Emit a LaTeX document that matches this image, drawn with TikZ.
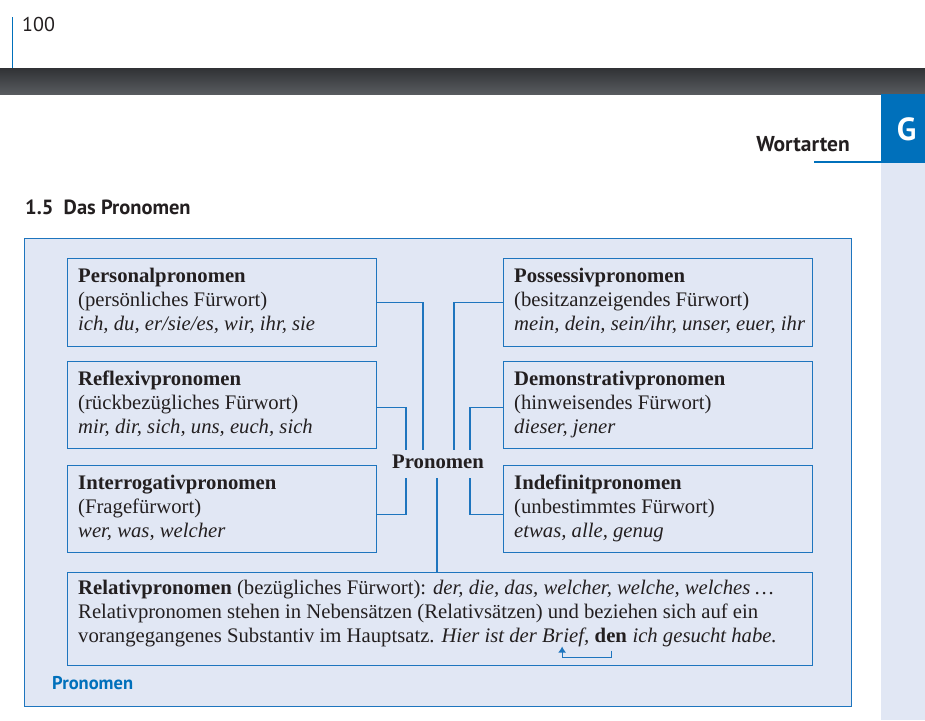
\documentclass[tikz,border=0pt]{standalone}
\usepackage{fontspec}
\setmainfont{Liberation Serif}
\newfontfamily\sansf{PT Sans}
\usetikzlibrary{arrows.meta,calc}
\definecolor{boxblue}{RGB}{30,117,190}
\definecolor{tabblue}{RGB}{0,112,187}
\definecolor{boxfill}{RGB}{225,231,244}
\definecolor{ink}{RGB}{35,31,32}
\definecolor{barTop}{RGB}{48,50,53}
\definecolor{barBot}{RGB}{88,91,95}
\newcommand\pbtext[4]{%
  \node[txt] (#1-a) at ($(#1.north west)+(11,24.5)$) {\textbf{#2}};
  \node[txt] (#1-b) at ($(#1.north west)+(11,48.5)$) {#3};
  \node[txt] (#1-c) at ($(#1.north west)+(11,72)$) {\textit{#4}};
}
\begin{document}
\begin{tikzpicture}[x=1pt,y=-1pt,
  txt/.style={anchor=base west,inner sep=0pt,text=ink,font=\fontsize{20.7}{24}\selectfont},
  pbox/.style={draw=boxblue,fill=boxfill,line width=1.3pt,minimum width=309pt,minimum height=88pt,inner sep=0pt,anchor=north west},
  conn/.style={draw=boxblue,line width=1.2pt},
  sanstxt/.style={inner sep=0pt,text=ink}]
\useasboundingbox (0,0) rectangle (925,720);
\fill[white] (0,0) rectangle (925,720);
% header
\draw[tabblue,line width=1pt] (12.4,17) -- (12.4,68);
\node[sanstxt,anchor=base west,font=\sansf\fontsize{20}{24}\selectfont] (pnum) at (22,31) {100};
\shade[top color=barTop,bottom color=barBot] (0,68) rectangle (925,94);
\fill[tabblue] (881,94) rectangle (925,163);
\fill[boxfill] (881,163) rectangle (925,720);
\node[inner sep=0pt,text=white,font=\sansf\bfseries\fontsize{32}{36}\selectfont] (tab) at (906.5,129) {G};
\node[sanstxt,anchor=base east,font=\sansf\bfseries\fontsize{21.5}{26}\selectfont] (chap) at (850,151) {Wortarten};
\draw[tabblue,line width=2pt] (814,162) -- (881,162);
\node[sanstxt,anchor=base west,font=\sansf\bfseries\fontsize{20.5}{24}\selectfont] (sect) at (25,214) {1.5\hspace{0.5em}Das Pronomen};
% frame
\node[draw=boxblue,fill=boxfill,line width=1.2pt,inner sep=0pt,minimum width=827pt,minimum height=468pt,anchor=north west] (frame) at (24,238) {};
\node[inner sep=0pt,anchor=base west,text=tabblue,font=\sansf\bfseries\fontsize{18.5}{22}\selectfont] (cap) at (52,689) {Pronomen};
% boxes
\node[pbox] (pers) at (67,258) {};
\node[pbox,minimum height=87pt] (refl) at (67,361) {};
\node[pbox,minimum height=87pt] (inter) at (67,465) {};
\node[pbox] (poss) at (503,258) {};
\node[pbox,minimum height=87pt] (demo) at (503,361) {};
\node[pbox,minimum height=87pt] (indef) at (503,465) {};
\node[pbox,minimum width=745pt,minimum height=93pt] (rel) at (67,572) {};
\pbtext{pers}{Personalpronomen}{(persönliches Fürwort)}{ich, du, er/sie/es, wir, ihr, sie}
\pbtext{refl}{Reflexivpronomen}{(rückbezügliches Fürwort)}{mir, dir, sich, uns, euch, sich}
\pbtext{inter}{Interrogativpronomen}{(Fragefürwort)}{wer, was, welcher}
\pbtext{poss}{Possessivpronomen}{(besitzanzeigendes Fürwort)}{mein, dein, sein/ihr, unser, euer, ihr}
\pbtext{demo}{Demonstrativpronomen}{(hinweisendes Fürwort)}{dieser, jener}
\pbtext{indef}{Indefinitpronomen}{(unbestimmtes Fürwort)}{etwas, alle, genug}
% relativ text
\node[txt] (rel-a) at ($(rel.north west)+(11,22.5)$) {\textbf{Relativpronomen} (bezügliches Fürwort): \textit{der, die, das, welcher, welche, welches}\,…};
\node[txt] (rel-b) at ($(rel.north west)+(11,46.5)$) {Relativpronomen stehen in Nebensätzen (Relativsätzen) und beziehen sich auf ein};
\node[txt] (rel-c1) at ($(rel.north west)+(11,70.5)$) {vorangegangenes Substantiv im Hauptsatz. \textit{Hier ist der Br}};
\node[txt] (rel-c2) at (rel-c1.base east) {\textit{ief,}};
\node[txt] (rel-c3) at (rel-c2.base east) {\ \textbf{den}};
\node[txt] (rel-c4) at (rel-c3.base east) {\ \textit{ich gesucht habe.}};
\coordinate (den) at ($(rel-c3.base east)!0.5!(rel-c3.base west)+(3,0)$);
\draw[boxblue,line width=1.2pt,-{Latex[length=6pt,width=8pt]}] ($(den)+(0,8)$) -- ($(den)+(0,15)$) -| ($(rel-c1.base east)+(-1,4)$);
% centre
\node[inner sep=0pt,anchor=base,text=ink,font=\bfseries\fontsize{20.7}{24}\selectfont] (pron) at (438,468) {Pronomen};
\draw[conn] (pers.east) -| ($(pron.base)+(-15,-18)$);
\draw[conn] (poss.west) -| ($(pron.base)+(16,-18)$);
\draw[conn] ($(refl.east)+(0,2.5)$) -| ($(pron.base)+(-32,-18)$);
\draw[conn] ($(demo.west)+(0,2.5)$) -| ($(pron.base)+(32,-18)$);
\draw[conn] ($(inter.east)+(0,5.5)$) -| ($(pron.base)+(-32,10)$);
\draw[conn] ($(indef.west)+(0,5.5)$) -| ($(pron.base)+(32,10)$);
\coordinate (rp) at ($(pron.base)+(-1,10)$);
\draw[conn] (rp) -- (rp |- rel.north);
\end{tikzpicture}
\end{document}
